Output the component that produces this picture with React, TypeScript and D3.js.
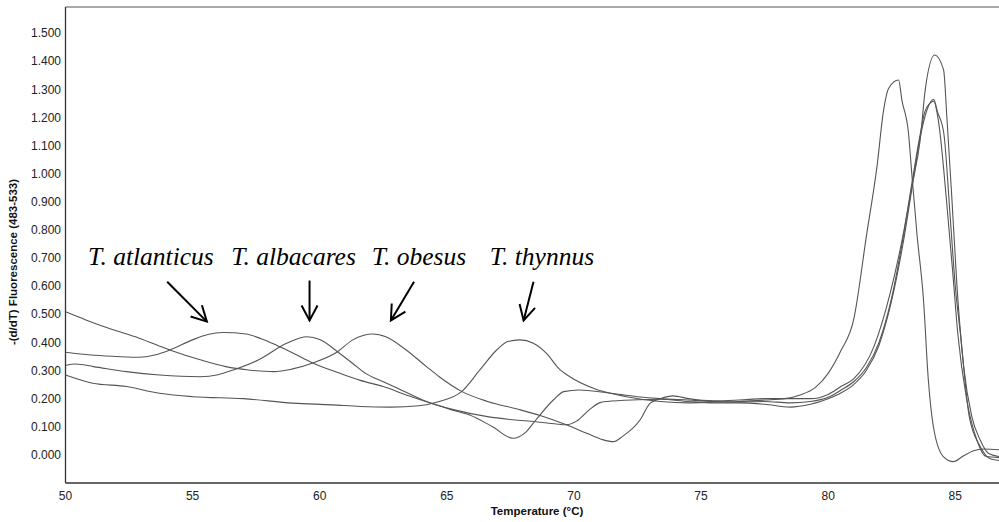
import React from "react";
import * as d3 from "d3";

// ---- data: [temperature °C, -(d/dT) fluorescence] ----
const atlanticus: [number, number][] = [
  [50, 0.365], [51, 0.355], [52, 0.35], [52.9, 0.347], [53.5, 0.355], [54.1, 0.373], [55.0, 0.409],
  [55.6, 0.428], [56.2, 0.435], [57.1, 0.43], [57.7, 0.413], [58.3, 0.39], [59.0, 0.36], [59.7, 0.328],
  [60.8, 0.29], [61.6, 0.265], [62.5, 0.243], [63.5, 0.21], [64.5, 0.18], [65.2, 0.16], [65.9, 0.142],
  [66.8, 0.1], [67.6, 0.059], [68.1, 0.08], [68.5, 0.124], [69.2, 0.196], [69.6, 0.225], [70.2, 0.231],
  [71.3, 0.221], [72.5, 0.207], [73.4, 0.2], [74.5, 0.195], [75.5, 0.19], [76.5, 0.188], [77.5, 0.19],
  [78.5, 0.185], [79.3, 0.19], [80.0, 0.205], [80.5, 0.23], [81.0, 0.26], [81.5, 0.31], [82.0, 0.4],
  [82.5, 0.56], [83.0, 0.8], [83.3, 0.97], [83.6, 1.13], [83.8, 1.22], [84.0, 1.25], [84.15, 1.258],
  [84.35, 1.18], [84.65, 0.91], [84.9, 0.65], [85.1, 0.43], [85.45, 0.196], [85.85, 0.053],
  [86.2, -0.005], [86.75, -0.01],
];
const albacares: [number, number][] = [
  [50, 0.318], [50.4, 0.323], [51.1, 0.314], [52.4, 0.296], [53.7, 0.284], [55.3, 0.278], [56.0, 0.285],
  [56.6, 0.302], [57.6, 0.338], [58.7, 0.397], [59.5, 0.42], [60.0, 0.41], [60.7, 0.367], [61.3, 0.325],
  [61.8, 0.29], [62.5, 0.26], [63.2, 0.231], [64.2, 0.19], [65.3, 0.16], [66.6, 0.136], [67.6, 0.125],
  [68.5, 0.118], [69.3, 0.11], [69.7, 0.107], [70.1, 0.12], [70.6, 0.16], [71.0, 0.185], [71.3, 0.19],
  [72.5, 0.196], [73.4, 0.198], [74.5, 0.19], [75.5, 0.185], [76.5, 0.185], [77.5, 0.18], [78.5, 0.17],
  [79.3, 0.18], [80.0, 0.2], [80.5, 0.22], [81.0, 0.25], [81.5, 0.3], [82.0, 0.39], [82.5, 0.55],
  [83.0, 0.78], [83.3, 0.95], [83.6, 1.12], [83.9, 1.23], [84.15, 1.265], [84.3, 1.22], [84.55, 1.143],
  [84.8, 0.847], [85.0, 0.6], [85.2, 0.433], [85.55, 0.136], [85.98, 0.03], [86.4, -0.015], [86.75, -0.02],
];
const obesus: [number, number][] = [
  [50, 0.509], [50.8, 0.48], [51.7, 0.45], [52.9, 0.415], [54.1, 0.373], [55.3, 0.338], [56.3, 0.314],
  [57.2, 0.302], [58.2, 0.296], [58.9, 0.305], [59.7, 0.326], [60.7, 0.367], [61.3, 0.409], [62.1, 0.43],
  [62.6, 0.42], [63.4, 0.373], [64.2, 0.314], [64.7, 0.278], [65.6, 0.225], [66.6, 0.19], [67.9, 0.16],
  [68.7, 0.139], [69.7, 0.107], [70.5, 0.077], [71.1, 0.055], [71.55, 0.047], [71.9, 0.065], [72.6, 0.124],
  [73.0, 0.184], [73.4, 0.2], [73.9, 0.21], [74.5, 0.2], [75.5, 0.192], [76.5, 0.195], [77.5, 0.2],
  [78.5, 0.2], [79.3, 0.2], [80.0, 0.215], [80.5, 0.243], [81.0, 0.27], [81.8, 0.385], [82.44, 0.575],
  [82.96, 0.788], [83.29, 0.954], [83.62, 1.12], [83.82, 1.3], [84.19, 1.422], [84.54, 1.369],
  [84.67, 1.2], [84.87, 0.906], [85.06, 0.61], [85.33, 0.314], [85.65, 0.136], [85.98, 0.053],
  [86.3, 0.006], [86.75, -0.006],
];
const thynnus: [number, number][] = [
  [50, 0.284], [51.07, 0.255], [52.4, 0.243], [53.7, 0.219], [55.0, 0.207], [57.0, 0.2], [58.95, 0.184],
  [60.5, 0.178], [61.6, 0.172], [62.8, 0.17], [63.9, 0.175], [64.7, 0.19], [65.58, 0.225], [66.3, 0.302],
  [66.96, 0.373], [67.4, 0.403], [67.87, 0.409], [68.4, 0.397], [68.93, 0.36], [69.4, 0.308],
  [69.84, 0.278], [70.76, 0.237], [72.07, 0.207], [73.39, 0.19], [74.5, 0.185], [75.5, 0.188],
  [76.5, 0.19], [77.5, 0.195], [78.3, 0.2], [78.9, 0.213], [79.5, 0.24], [80.0, 0.29], [80.5, 0.37],
  [81.0, 0.48], [81.52, 0.788], [81.92, 1.025], [82.18, 1.226], [82.38, 1.304], [82.77, 1.333],
  [82.9, 1.262], [83.16, 1.144], [83.29, 1.0], [83.49, 0.788], [83.75, 0.551], [83.94, 0.267],
  [84.14, 0.1], [84.53, -0.006], [84.93, -0.024], [85.3, -0.005], [85.72, 0.015], [86.12, 0.021],
  [86.75, 0.018],
];

const seriesList = [atlanticus, albacares, obesus, thynnus];

const yTicks = [0, 0.1, 0.2, 0.3, 0.4, 0.5, 0.6, 0.7, 0.8, 0.9, 1.0, 1.1, 1.2, 1.3, 1.4, 1.5];
const xTicks = [50, 55, 60, 65, 70, 75, 80, 85];

// annotation: label centre (temp), arrow tail & tip in data coords
const labels = ["T. atlanticus", "T. albacares", "T. obesus", "T. thynnus"];
const labelCenterT = [53.36, 58.97, 63.9, 68.74];
const labelV = 0.676;
const arrowTail: [number, number][] = [[54.0, 0.616], [59.6, 0.62], [63.71, 0.616], [68.41, 0.616]];
const arrowTip: [number, number][] = [[55.56, 0.474], [59.6, 0.478], [62.8, 0.478], [68.02, 0.478]];

const W = 999;
const H = 522;
const left = 65.5;
const right = 999;
const top = 7;
const bottom = 483;

export default function App() {
  const x = d3.scaleLinear().domain([50, 86.72]).range([left, right]);
  const y = d3.scaleLinear().domain([-0.1, 1.6]).range([bottom, 5]);
  const line = d3
    .line<[number, number]>()
    .x((d) => x(d[0]))
    .y((d) => y(d[1]))
    .curve(d3.curveMonotoneX);

  const fmt = d3.format(".3f");
  const sans = "'Liberation Sans', Arial, sans-serif";
  const serif = "'Liberation Serif', 'Times New Roman', serif";

  const arrowHead = (tail: [number, number], tip: [number, number]) => {
    const x1 = x(tail[0]), y1 = y(tail[1]);
    const x2 = x(tip[0]), y2 = y(tip[1]);
    const ang = Math.atan2(y2 - y1, x2 - x1);
    const len = 17;
    const spread = (28 * Math.PI) / 180;
    const a1 = ang + Math.PI - spread;
    const a2 = ang + Math.PI + spread;
    return `M${x2 + len * Math.cos(a1)},${y2 + len * Math.sin(a1)}L${x2},${y2}L${x2 + len * Math.cos(a2)},${y2 + len * Math.sin(a2)}`;
  };

  return (
    <svg
      width={W}
      height={H}
      style={{ position: "absolute", left: 0, top: 0, background: "#fff" }}
    >
      <defs>
        <clipPath id="plot">
          <rect x={left} y={top} width={right - left} height={bottom - top} />
        </clipPath>
      </defs>
      {/* frame */}
      <line x1={left} x2={right} y1={top} y2={top} stroke="#555" strokeWidth={1} />
      <line x1={left} x2={left} y1={top} y2={bottom} stroke="#333" strokeWidth={1.3} />
      <line x1={left} x2={right} y1={bottom} y2={bottom} stroke="#333" strokeWidth={1.3} />

      {/* y tick labels */}
      {yTicks.map((t) => (
        <text
          key={t}
          x={61}
          y={y(t)}
          dy="0.35em"
          textAnchor="end"
          fontFamily={sans}
          fontSize={12}
          fill="#222"
        >
          {fmt(t)}
        </text>
      ))}
      {/* x tick labels */}
      {xTicks.map((t) => (
        <text
          key={t}
          x={x(t)}
          y={500}
          textAnchor="middle"
          fontFamily={sans}
          fontSize={12}
          fill="#222"
        >
          {t}
        </text>
      ))}
      <text
        x={537}
        y={515}
        textAnchor="middle"
        fontFamily={sans}
        fontSize={11.5}
        fontWeight="bold"
        fill="#111"
      >
        Temperature (°C)
      </text>
      <text
        transform={`translate(17,262) rotate(-90)`}
        textAnchor="middle"
        fontFamily={sans}
        fontSize={11.5}
        fontWeight="bold"
        fill="#111"
      >
        -(d/dT) Fluorescence (483-533)
      </text>

      {/* curves */}
      <g clipPath="url(#plot)">
        {seriesList.map((s, i) => (
          <path key={i} d={line(s) || ""} fill="none" stroke="#555" strokeWidth={1.1} />
        ))}
      </g>

      {/* annotations */}
      {labels.map((lab, i) => (
        <g key={lab}>
          <text
            x={x(labelCenterT[i])}
            y={y(labelV)}
            textAnchor="middle"
            fontFamily={serif}
            fontStyle="italic"
            fontSize={25.5}
            fill="#000"
          >
            {lab}
          </text>
          <line
            x1={x(arrowTail[i][0])}
            y1={y(arrowTail[i][1])}
            x2={x(arrowTip[i][0])}
            y2={y(arrowTip[i][1])}
            stroke="#000"
            strokeWidth={2}
          />
          <path d={arrowHead(arrowTail[i], arrowTip[i])} fill="none" stroke="#000" strokeWidth={2} />
        </g>
      ))}
    </svg>
  );
}
